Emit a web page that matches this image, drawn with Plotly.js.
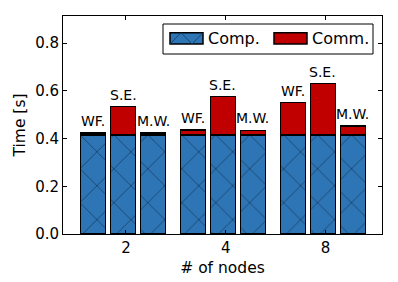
<!DOCTYPE html>
<html>
<head>
<meta charset="utf-8">
<script src="https://cdn.plot.ly/plotly-3.0.1.min.js"></script>
<style>html,body{margin:0;padding:0;background:#fff}</style>
</head>
<body>
<div id="chart" style="width:398px;height:282px"></div>
<script>
const nodes = ["2", "4", "8"];
const methods = ["WF.", "S.E.", "M.W."];
// values per node group, in method order WF., S.E., M.W.
const compTime = [
  [0.416, 0.416, 0.416],
  [0.416, 0.416, 0.416],
  [0.416, 0.416, 0.416]
];
const commTime = [
  [0.008, 0.118, 0.008],
  [0.020, 0.160, 0.019],
  [0.135, 0.215, 0.037]
];

const pitch = 0.3006, barW = 0.25;
const xs = [], comp = [], comm = [], labels = [], tops = [];
nodes.forEach((n, g) => {
  methods.forEach((m, k) => {
    xs.push(g + (k - 1) * pitch);
    comp.push(compTime[g][k]);
    comm.push(commTime[g][k]);
    labels.push(m);
    tops.push(compTime[g][k] + commTime[g][k]);
  });
});

const font = "DejaVu Sans, sans-serif";
const blue = "#2e75b6", red = "#c00000", hatch = "#163a5c";
const traces = [
  {
    type: "bar", x: xs, y: comp, width: barW, name: "Comp.",
    marker: {
      color: blue,
      line: {color: "#000", width: 1.5},
      pattern: {shape: "x", size: 24, solidity: 0.06, fgcolor: hatch, bgcolor: blue, fgopacity: 1, fillmode: "replace"}
    },
    hoverinfo: "skip"
  },
  {
    type: "bar", x: xs, y: comm, width: barW, name: "Comm.",
    marker: {color: red, line: {color: "#000", width: 1.5}},
    hoverinfo: "skip"
  }
];

const annotations = xs.map((x, i) => ({
  x: x, y: tops[i], xref: "x", yref: "y", text: labels[i],
  showarrow: false, yanchor: "bottom", yshift: 2,
  font: {family: font, size: 14, color: "#000"}
}));

// custom matplotlib-style legend (paper coords)
const px = v => (v - 63) / 319, py = v => (234 - v) / 218;
const shapes = [
  {type: "rect", xref: "paper", yref: "paper", x0: px(163), x1: px(373), y0: py(54), y1: py(24),
   line: {color: "#000", width: 1}, fillcolor: "#fff"},
  {type: "rect", xref: "paper", yref: "paper", x0: px(170), x1: px(203), y0: py(44), y1: py(32.7),
   line: {color: "#000", width: 1.5}, fillcolor: blue},
  {type: "line", xref: "paper", yref: "paper", x0: px(170), x1: px(181), y0: py(44), y1: py(32.7),
   line: {color: hatch, width: 0.8}},
  {type: "line", xref: "paper", yref: "paper", x0: px(181), x1: px(192), y0: py(32.7), y1: py(44),
   line: {color: hatch, width: 0.8}},
  {type: "line", xref: "paper", yref: "paper", x0: px(192), x1: px(203), y0: py(44), y1: py(32.7),
   line: {color: hatch, width: 0.8}},
  {type: "rect", xref: "paper", yref: "paper", x0: px(274), x1: px(307), y0: py(44), y1: py(32.7),
   line: {color: "#000", width: 1.5}, fillcolor: red}
];
annotations.push(
  {xref: "paper", yref: "paper", x: px(206), y: py(38.5), text: "Comp.", showarrow: false,
   xanchor: "left", yanchor: "middle", font: {family: font, size: 16, color: "#000"}},
  {xref: "paper", yref: "paper", x: px(310), y: py(38.5), text: "Comm.", showarrow: false,
   xanchor: "left", yanchor: "middle", font: {family: font, size: 16, color: "#000"}}
);

const layout = {
  width: 398, height: 282,
  margin: {l: 63, r: 16, t: 16, b: 48},
  paper_bgcolor: "#fff", plot_bgcolor: "#fff",
  barmode: "stack",
  showlegend: false,
  font: {family: font, color: "#000"},
  xaxis: {
    range: [-0.602, 2.593],
    tickvals: nodes.map((n, g) => g + 0.028), ticktext: nodes,
    ticks: "inside", ticklen: 4, tickcolor: "#000",
    showline: true, linecolor: "#000", linewidth: 1, mirror: "ticks",
    showgrid: false, zeroline: false,
    tickfont: {family: font, size: 15},
    title: {text: "# of nodes", font: {family: font, size: 15.5}, standoff: 6}
  },
  yaxis: {
    range: [0, 0.914],
    tickvals: [0, 0.2, 0.4, 0.6, 0.8], tickformat: ".1f",
    ticks: "inside", ticklen: 4, tickcolor: "#000",
    showline: true, linecolor: "#000", linewidth: 1, mirror: "ticks",
    showgrid: false, zeroline: false,
    tickfont: {family: font, size: 15},
    title: {text: "Time [s]", font: {family: font, size: 15.5}, standoff: 5}
  },
  shapes: shapes,
  annotations: annotations
};

Plotly.newPlot("chart", traces, layout, {displayModeBar: false, staticPlot: true});
</script>
</body>
</html>
